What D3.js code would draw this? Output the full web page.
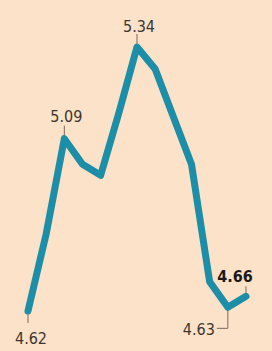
<!DOCTYPE html>
<html lang="en">
<head>
  <meta charset="UTF-8">
  <title>Line chart</title>
  <script src="https://d3js.org/d3.v7.min.js"></script>
  <style>
    body {margin: 0; padding: 0; background: #fce2c8;}
    #chart svg {display: block;}
    .lbl {font-family: "DejaVu Sans Condensed", "Liberation Sans Narrow", sans-serif; font-size: 16px; fill: #3b3632;}
    .lbl.last {font-weight: bold; fill: #1a1a1a;}
    .lead {stroke: #7a6a60; stroke-width: 1; fill: none;}
  </style>
</head>
<body>
  <div id="chart"></div>
  <script>
    // one value per period
    const values = [4.62, 4.83, 5.09, 5.02, 4.99, 5.16, 5.34, 5.28, 5.15, 5.02, 4.70, 4.63, 4.66];
    // annotated points: index, text
    const labelIdx = [0, 2, 6, 11, 12];
    const labelText = ["4.62", "5.09", "5.34", "4.63", "4.66"];

    const width = 272, height = 351;

    const svg = d3.select("#chart").append("svg")
      .attr("width", width).attr("height", height);

    svg.append("rect").attr("width", width).attr("height", height).attr("fill", "#fce2c8");

    const x = d3.scaleLinear().domain([0, values.length - 1]).range([28, 246]);
    const y = d3.scaleLinear().domain([4.62, 5.34]).range([311, 47]);

    const line = d3.line()
      .x((d, i) => x(i))
      .y(d => y(d));

    // leader lines first, so the line sits on top
    labelIdx.forEach((idx, k) => {
      const px = x(idx), py = y(values[idx]);
      let path;
      if (k === 0) path = `M${px},${py} V${py + 12}`;
      else if (k === 3) path = `M${px},${py} V${py + 21} H${px - 11}`;
      else if (k === 4) path = `M${px},${py} V${py - 10}`;
      else path = `M${px},${py} V${py - 13}`;
      svg.append("path").attr("class", "lead").attr("d", path)
        .attr("stroke", k === 2 ? "#c0605a" : null);
    });

    svg.append("path")
      .datum(values)
      .attr("fill", "none")
      .attr("stroke", "#1d8ea7")
      .attr("stroke-width", 7)
      .attr("stroke-linejoin", "round")
      .attr("stroke-linecap", "round")
      .attr("d", line);

    labelIdx.forEach((idx, k) => {
      const px = x(idx), py = y(values[idx]);
      let tx = px, ty, anchor = "middle";
      if (k === 0) { tx = px + 3; ty = py + 33; }
      else if (k === 1) { tx = px + 2; ty = py - 17; }
      else if (k === 2) { tx = px + 2; ty = py - 15; }
      else if (k === 3) { tx = px - 13; ty = py + 28; anchor = "end"; }
      else { tx = px - 11; ty = py - 14; }
      svg.append("text")
        .attr("class", k === 4 ? "lbl last" : "lbl")
        .attr("x", tx).attr("y", ty)
        .attr("text-anchor", anchor)
        .text(labelText[k]);
    });
  </script>
</body>
</html>
